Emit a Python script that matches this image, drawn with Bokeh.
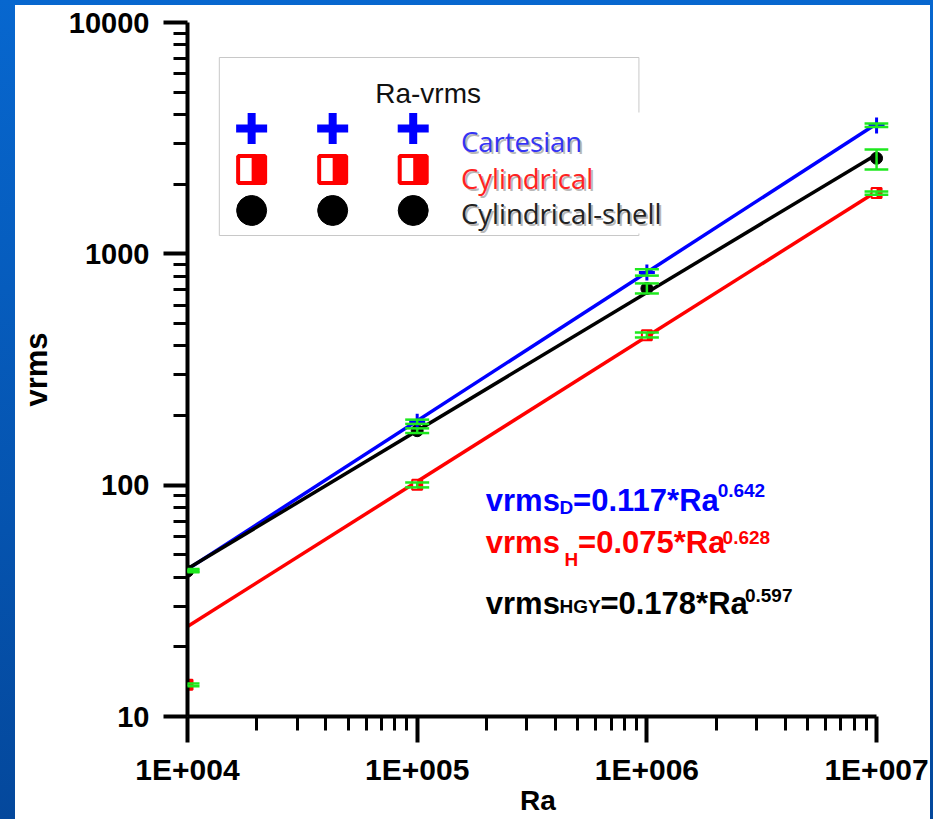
import math
from bokeh.plotting import figure
from bokeh.models import (ColumnDataSource, Range1d, LinearScale, FixedTicker, Whisker,
                          TeeHead, Label, GlobalInlineStyleSheet)
from bokeh.embed import file_html
from bokeh.resources import INLINE

# ---------------- data ----------------
ra = [1e4, 1e5, 1e6, 1e7]

cart_v = [42.8, 188, 831, 3590]
cart_lo = [42.2, 184, 805, 3530]
cart_hi = [43.4, 192, 858, 3660]

cyl_v = [13.7, 100.5, 445, 1830]
cyl_lo = [13.5, 97.8, 435, 1800]
cyl_hi = [13.9, 102.7, 457, 1860]

shell_v = [42.5, 172, 708, 2590]
shell_lo = [42.0, 168, 674, 2317]
shell_hi = [43.0, 176, 745, 2826]

# power-law fit lines, end values
fit_ra = [1e4, 1e7]
cart_fit = [43.3, 3650]
cyl_fit = [24.5, 1860]
shell_fit = [43.5, 2690]

x_ticks = [10000, 100000, 1000000, 10000000]
x_tick_labels = ["1E+004", "1E+005", "1E+006", "1E+007"]
y_ticks = [10, 100, 1000, 10000]
y_tick_labels = ["10", "100", "1000", "10000"]

series_names = ["Cartesian", "Cylindrical", "Cylindrical-shell"]
legend_title = "Ra-vrms"
x_title = "Ra"
y_title = "vrms"

eq_base = "vrms"
eq_subs = ["D", "H", "HGY"]
eq_mains = ["=0.117*Ra", "=0.075*Ra", "=0.178*Ra"]
eq_sups = ["0.642", "0.628", "0.597"]

# ---------------- styles / layout ----------------
BLUE = "#0000ff"
RED = "#ff0000"
BLACK = "#000000"
GREEN = "#1ee81e"
FONT = "Liberation Sans"

PAD = 10 ** (12 / 231)  # room on the right so the last markers are not clipped

p = figure(x_axis_type="log", y_axis_type="log",
           x_range=Range1d(1e4, 1e7 * PAD), y_range=Range1d(10, 1e4),
           width=915, height=814,
           min_border_left=168, min_border_right=42, min_border_top=17, min_border_bottom=103,
           output_backend="svg", toolbar_location=None)
p.margin = (5, 0, 0, 15)
p.background_fill_color = "white"
p.border_fill_color = "white"
p.outline_line_color = None
p.grid.visible = False
p.styles = {"background-color": "white"}
p.stylesheets = [GlobalInlineStyleSheet(
    css="html{background:linear-gradient(180deg,#0767cf 0%,#04489c 100%);min-height:100%;}"
        "body{background:transparent;}")]

# page-pixel helper ranges for decorations (legend, equations)
p.extra_x_ranges = {"px": Range1d(183, 888)}
p.extra_x_scales = {"px": LinearScale()}
p.extra_y_ranges = {"py": Range1d(716, 22)}
p.extra_y_scales = {"py": LinearScale()}

x_minor = [m * 10 ** e for e in range(4, 7) for m in range(2, 10)]
y_minor = [m * 10 ** e for e in range(1, 4) for m in range(2, 10)]

xa = p.xaxis[0]
ya = p.yaxis[0]
xa.ticker = FixedTicker(ticks=x_ticks, minor_ticks=x_minor)
ya.ticker = FixedTicker(ticks=y_ticks, minor_ticks=y_minor)
xa.major_label_overrides = {t: l for t, l in zip(x_ticks, x_tick_labels)}
ya.major_label_overrides = {t: l for t, l in zip(y_ticks, y_tick_labels)}
xa.bounds = (1e4, 1e7)

for ax in (xa, ya):
    ax.axis_line_width = 4
    ax.axis_line_color = BLACK
    ax.major_tick_line_width = 4
    ax.minor_tick_line_width = 3
    ax.major_tick_line_color = BLACK
    ax.minor_tick_line_color = BLACK
    ax.major_tick_in = 0
    ax.minor_tick_in = 0
    ax.major_label_text_font = FONT
    ax.major_label_text_font_style = "bold"
    ax.major_label_text_color = BLACK
    ax.axis_label_text_font = FONT
    ax.axis_label_text_font_style = "bold"
    ax.axis_label_text_color = BLACK
xa.major_tick_out = 26
xa.minor_tick_out = 14
xa.major_label_standoff = 10
xa.major_label_text_font_size = "30px"
xa.axis_label = x_title
xa.axis_label_text_font_size = "28px"
xa.axis_label_standoff = -4
ya.major_tick_out = 24
ya.minor_tick_out = 14
ya.major_label_standoff = 14
ya.major_label_text_font_size = "29px"
ya.axis_label = y_title
ya.axis_label_text_font_size = "31px"
ya.axis_label_standoff = 12

# ---------------- fit lines ----------------
p.line(fit_ra, cart_fit, line_color=BLUE, line_width=3.5)
p.line(fit_ra, shell_fit, line_color=BLACK, line_width=3.5)
p.line(fit_ra, cyl_fit, line_color=RED, line_width=3.5)

# ---------------- markers ----------------
p.scatter(ra, shell_v, marker="circle", size=12, fill_color=BLACK, line_color=BLACK)
p.scatter(ra, cart_v, marker="cross", size=16, line_color=BLUE, line_width=3)
p.scatter(ra, cyl_v, marker="square", size=10, fill_color="white", line_color=RED, line_width=2)
p.ray(ra, cyl_v, length=5, length_units="screen", angle=0, line_color=RED,
      line_width=10, line_cap="butt")

# ---------------- error bars ----------------
for lo, hi in ((cart_lo, cart_hi), (cyl_lo, cyl_hi), (shell_lo, shell_hi)):
    src = ColumnDataSource(dict(base=ra, lower=lo, upper=hi))
    w = Whisker(source=src, base="base", lower="lower", upper="upper",
                line_color=GREEN, line_width=2.5, level="annotation",
                upper_head=TeeHead(size=24, line_color=GREEN, line_width=2.5),
                lower_head=TeeHead(size=24, line_color=GREEN, line_width=2.5))
    p.add_layout(w)

# ---------------- legend (drawn in page pixels) ----------------
PX = dict(x_range_name="px", y_range_name="py")
p.quad(left=[215], right=[637], top=[57], bottom=[235], fill_color="white",
       line_color="#c8c8c8", line_width=1, **PX)
p.quad(left=[438], right=[672], top=[112], bottom=[233], fill_color="white",
       line_color=None, **PX)
p.add_layout(Label(x=425, y=92.5, text=legend_title, text_align="center",
                   text_baseline="middle", text_font=FONT, text_font_size="28px",
                   text_color="#111111", **PX))

LEG_COLS = [247.5, 329, 410]
LEG_ROWS = [128, 169, 210]
p.scatter(LEG_COLS, [LEG_ROWS[0]] * 3, marker="cross", size=31, line_color=BLUE,
          line_width=8, **PX)
p.scatter(LEG_COLS, [LEG_ROWS[1]] * 3, marker="square", size=27, fill_color="white",
          line_color=RED, line_width=4, **PX)
p.ray(LEG_COLS, [LEG_ROWS[1]] * 3, length=13.5, length_units="screen", angle=0,
      line_color=RED, line_width=27, line_cap="butt", **PX)
p.scatter(LEG_COLS, [LEG_ROWS[2]] * 3, marker="circle", size=30, fill_color=BLACK,
          line_color=BLACK, **PX)

label_cols = ["#3434f4", "#ff2222", "#222222"]
label_mid = [141, 177.5, 212.5]
for name, col, ym in zip(series_names, label_cols, label_mid):
    p.add_layout(Label(x=460, y=ym + 2, text=name, text_font="Open Sans",
                       text_font_size="27.5px", text_color="#9a9a9a", text_alpha=0.7,
                       text_baseline="middle", **PX))
    p.add_layout(Label(x=458, y=ym, text=name, text_font="Open Sans",
                       text_font_size="27.5px", text_color=col,
                       text_baseline="middle", **PX))

# ---------------- equations ----------------
AB = {'v': 556, 'r': 389, 'm': 889, 's': 556, 'D': 722, 'H': 722, 'G': 778, 'Y': 667,
      '=': 584, '.': 278, '*': 389, 'R': 722, 'a': 556}
for d in "0123456789":
    AB[d] = 556


def tw(s, size):
    return sum(AB[c] for c in s) * size / 1000.0


MAIN, SMALL = 31, 19
eq_cols = [BLUE, RED, BLACK]
eq_main_mid = [500, 542, 603]
eq_sub_mid = [507, 558.5, 606]
eq_sup_mid = [490, 536.5, 594.5]
eq_sub_gap = [0, 5, 0]
for col, sub, main, sup, ym, ysb, ysp, gap in zip(eq_cols, eq_subs, eq_mains, eq_sups,
                                                   eq_main_mid, eq_sub_mid, eq_sup_mid,
                                                   eq_sub_gap):
    x = 483
    common = dict(text_font=FONT, text_font_style="bold", text_color=col,
                  text_baseline="middle", **PX)
    p.add_layout(Label(x=x, y=ym, text=eq_base, text_font_size=f"{MAIN}px", **common))
    x += tw(eq_base, MAIN) + gap
    p.add_layout(Label(x=x, y=ysb, text=sub, text_font_size=f"{SMALL}px", **common))
    x += tw(sub, SMALL)
    p.add_layout(Label(x=x, y=ym, text=main, text_font_size=f"{MAIN}px", **common))
    x += tw(main, MAIN) - 2
    p.add_layout(Label(x=x, y=ysp, text=sup, text_font_size=f"{SMALL}px", **common))

open("out.html", "w").write(file_html(p, INLINE))
